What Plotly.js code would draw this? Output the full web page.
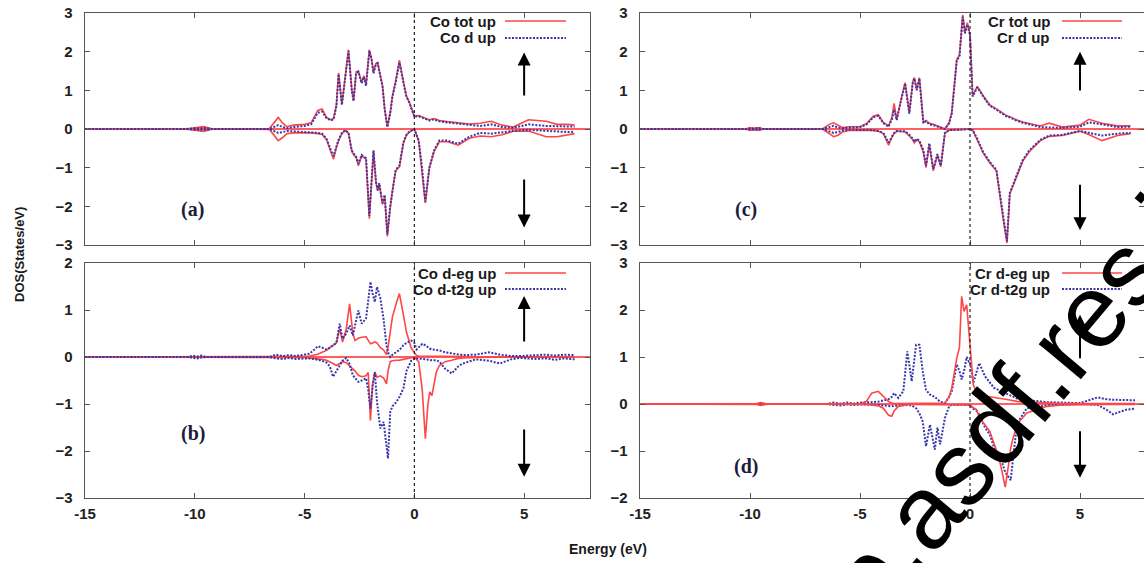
<!DOCTYPE html>
<html>
<head>
<meta charset="utf-8">
<script src="https://cdn.plot.ly/plotly-3.0.1.min.js"></script>
<style>html,body{margin:0;padding:0;background:#fff;}#plot{width:1144px;height:563px;}</style>
</head>
<body>
<div id="plot"></div>
<script>
// ---------- DATA ----------
// Panel (a): Co total and Co d (spin up > 0, spin down < 0)
const aE      = [-15,-10.4,-10.0,-9.8,-9.6,-9.4,-9.2,-6.6,-6.4,-6.2,-6.0,-5.8,-5.5,-5.0,-4.7,-4.4,-4.2,-4.0,-3.8,-3.68,-3.55,-3.45,-3.3,-3.15,-3.0,-2.85,-2.77,-2.65,-2.55,-2.4,-2.3,-2.2,-2.05,-1.95,-1.86,-1.75,-1.67,-1.6,-1.45,-1.35,-1.23,-1.1,-1.0,-0.85,-0.68,-0.5,-0.36,-0.23,-0.1,0,0.2,0.35,0.5,0.68,0.9,1.14,1.5,2.0,2.5,3.0,3.5,4.0,4.5,5.2,6.0,6.5,7.0,7.3];
const aTotUp  = [0,0,0.03,0.05,0.06,0.03,0,0.01,0.15,0.3,0.15,0.06,0.1,0.12,0.16,0.48,0.52,0.3,0.24,0.27,0.62,1.45,0.64,1.32,2.05,1.02,0.74,1.48,1.5,1.2,1.38,1.15,2.05,1.82,1.46,1.7,1.72,1.52,1.12,0.52,0.06,0.42,0.85,1.25,1.78,1.24,0.85,0.7,0.52,0.33,0.35,0.32,0.27,0.24,0.27,0.22,0.19,0.16,0.13,0.15,0.2,0.1,0.05,0.24,0.2,0.12,0.12,0.1];
const aTotDn  = [0,0,-0.03,-0.05,-0.06,-0.03,0,-0.01,-0.15,-0.3,-0.22,-0.12,-0.1,-0.1,-0.1,-0.12,-0.14,-0.28,-0.6,-0.78,-0.48,-0.3,-0.12,-0.04,-0.1,-0.58,-0.66,-0.74,-0.95,-0.7,-0.74,-0.78,-2.32,-1.25,-0.57,-1.38,-1.6,-1.42,-1.95,-1.75,-2.78,-2.05,-1.6,-1.08,-0.98,-0.37,-0.16,-0.08,-0.03,0,-0.32,-1.05,-1.92,-1.02,-0.58,-0.33,-0.33,-0.42,-0.24,-0.18,-0.2,-0.15,-0.06,-0.05,-0.2,-0.2,-0.15,-0.12];
const aDUp    = [0,0,0.02,0.01,0.03,0.01,0,0,0.05,0.1,0.05,0.02,0.05,0.08,0.12,0.42,0.45,0.28,0.22,0.25,0.6,1.42,0.62,1.3,2.02,1.0,0.72,1.45,1.48,1.18,1.35,1.12,2.02,1.8,1.44,1.68,1.7,1.5,1.1,0.5,0.05,0.4,0.83,1.2,1.72,1.2,0.83,0.68,0.5,0.32,0.33,0.3,0.25,0.22,0.25,0.2,0.17,0.14,0.1,0.08,0.12,0.05,0.03,0.12,0.08,0.07,0.07,0.06];
const aDDn    = [0,0,-0.02,-0.01,-0.03,-0.01,0,0,-0.05,-0.1,-0.08,-0.05,-0.06,-0.07,-0.08,-0.1,-0.12,-0.25,-0.55,-0.7,-0.45,-0.28,-0.1,-0.03,-0.1,-0.55,-0.63,-0.72,-0.9,-0.67,-0.72,-0.75,-2.25,-1.2,-0.55,-1.35,-1.58,-1.4,-1.92,-1.7,-2.72,-2.0,-1.58,-1.05,-0.95,-0.35,-0.15,-0.07,-0.03,0,-0.3,-1.0,-1.88,-1.0,-0.55,-0.3,-0.3,-0.38,-0.2,-0.1,-0.12,-0.08,-0.05,-0.02,-0.05,-0.08,-0.08,-0.07];

// Panel (b): Co d-eg and Co d-t2g
const bE      = [-15,-10.3,-10.1,-9.9,-9.7,-9.5,-6.6,-6.3,-6.0,-5.7,-5.4,-5.0,-4.77,-4.5,-4.4,-4.2,-4.0,-3.85,-3.7,-3.55,-3.4,-3.27,-3.1,-2.95,-2.8,-2.7,-2.55,-2.4,-2.2,-2.1,-2.0,-1.9,-1.8,-1.7,-1.55,-1.4,-1.27,-1.2,-1.1,-1.0,-0.82,-0.68,-0.5,-0.36,-0.14,0,0.1,0.2,0.36,0.5,0.62,0.7,0.8,1.0,1.14,1.4,1.7,2.0,2.2,2.8,3.4,3.9,4.4,4.8,5.5,6.0,6.4,6.8,7.3];
const bEgUp   = [0,0,0,0,0,0,0,0,0,0,0,0.01,0.02,0.04,0.06,0.1,0.14,0.2,0.25,0.3,0.6,0.32,0.6,1.13,0.5,0.35,0.4,0.42,0.43,0.35,0.28,0.3,0.32,0.3,0.2,0.15,0.05,0.2,0.55,0.85,1.15,1.35,0.9,0.53,0.19,0.08,0.03,0.02,0.02,0.02,0.02,0.02,0.02,0.02,0.02,0.01,0.01,0.01,0.01,0,0,0,0,0,0,0,0,0,0];
const bEgDn   = [0,0,0,0,0,0,0,0,0,0,0,-0.01,-0.02,-0.03,-0.04,-0.05,-0.07,-0.1,-0.14,-0.18,-0.14,-0.1,-0.12,-0.18,-0.25,-0.3,-0.39,-0.42,-0.4,-0.33,-1.35,-0.6,-0.32,-0.43,-0.4,-0.45,-0.57,-0.3,-0.1,-0.08,-0.07,-0.07,-0.05,-0.04,-0.02,0,-0.05,-0.1,-0.7,-1.74,-1.0,-0.74,-0.82,-0.32,-0.18,-0.1,-0.07,-0.03,-0.02,-0.01,0,0,0,0,0,0,0,0,0];
const bT2gUp  = [0,0,0.03,0.01,0.03,0,0,0.05,0.02,0.04,0.02,0.05,0.07,0.18,0.23,0.2,0.16,0.2,0.26,0.3,0.71,0.39,0.5,0.67,0.46,0.7,0.99,0.71,0.82,1.2,1.6,1.35,1.17,1.49,1.25,0.8,0.25,0.1,0.0,0.05,0.1,0.15,0.25,0.3,0.35,0.3,0.16,0.2,0.28,0.25,0.2,0.18,0.16,0.15,0.14,0.1,0.08,0.05,0.04,0.05,0.1,0.05,0.02,0.02,0.03,0.05,0.03,0.05,0.04];
const bT2gDn  = [0,0,-0.02,-0.03,-0.01,0,0,-0.03,-0.04,-0.02,-0.04,-0.03,-0.03,-0.05,-0.06,-0.08,-0.12,-0.2,-0.42,-0.3,-0.18,-0.08,-0.02,-0.15,-0.39,-0.45,-0.53,-0.5,-0.45,-0.7,-1.1,-0.6,-0.32,-0.96,-1.52,-1.38,-1.9,-2.16,-1.17,-1.05,-0.96,-0.85,-0.67,-0.3,-0.08,-0.03,-0.03,-0.03,-0.04,-0.05,-0.05,-0.06,-0.07,-0.07,-0.1,-0.25,-0.35,-0.2,-0.14,-0.05,-0.08,-0.14,-0.05,-0.02,-0.04,-0.03,-0.06,-0.03,-0.05];

// Panel (c): Cr total and Cr d
const cE      = [-15,-10.2,-10.0,-9.8,-9.6,-9.4,-6.7,-6.4,-6.2,-6.0,-5.8,-5.5,-5.0,-4.7,-4.4,-4.17,-3.94,-3.7,-3.55,-3.45,-3.33,-3.15,-2.95,-2.76,-2.6,-2.53,-2.42,-2.3,-2.12,-2.0,-1.85,-1.67,-1.48,-1.33,-1.14,-0.95,-0.83,-0.6,-0.48,-0.33,-0.23,-0.12,0,0.12,0.33,0.6,0.9,1.2,1.5,1.68,1.81,2.1,2.4,2.7,3.2,3.6,4.2,5.0,5.4,6.0,6.7,7.3];
const cTotUp  = [0,0,0.03,0.02,0.04,0,0,0.12,0.16,0.1,0.04,0.06,0.06,0.14,0.33,0.37,0.17,0.08,0.3,0.66,0.25,0.72,1.2,0.42,1.22,1.33,1.02,1.33,0.17,0.22,0.15,0.12,0.07,0.04,0,0.16,0.42,1.8,1.9,2.95,2.5,2.75,2.45,0.86,1.1,0.86,0.62,0.52,0.4,0.34,0.32,0.24,0.18,0.14,0.08,0.15,0.05,0.1,0.25,0.15,0.08,0.08];
const cTotDn  = [0,0,-0.03,-0.02,-0.03,0,0,-0.12,-0.2,-0.16,-0.08,-0.04,-0.03,-0.03,-0.04,-0.06,-0.12,-0.42,-0.22,-0.12,-0.06,-0.06,-0.07,-0.18,-0.28,-0.36,-0.28,-0.33,-0.6,-1.0,-0.4,-1.08,-0.68,-0.98,-0.11,-0.03,-0.02,-0.02,-0.02,-0.01,-0.01,0,0,-0.03,-0.27,-0.62,-0.88,-1.08,-2.3,-2.95,-1.68,-1.27,-0.83,-0.58,-0.3,-0.19,-0.17,-0.06,-0.14,-0.3,-0.17,-0.12];
const cDUp    = [0,0,0.02,0.01,0.03,0,0,0.06,0.08,0.04,0.02,0.04,0.05,0.12,0.3,0.34,0.15,0.06,0.25,0.5,0.23,0.7,1.18,0.4,1.2,1.31,1.0,1.31,0.15,0.2,0.12,0.1,0.06,0.03,0,0.15,0.4,1.78,1.87,2.9,2.47,2.7,2.43,0.84,1.08,0.84,0.6,0.5,0.38,0.32,0.3,0.22,0.16,0.12,0.05,0.04,0.03,0.06,0.17,0.12,0.05,0.06];
const cDDn    = [0,0,-0.02,-0.01,-0.02,0,0,-0.06,-0.1,-0.08,-0.04,-0.02,-0.02,-0.02,-0.03,-0.05,-0.1,-0.35,-0.2,-0.1,-0.05,-0.05,-0.06,-0.15,-0.25,-0.33,-0.25,-0.3,-0.55,-0.95,-0.37,-1.03,-0.65,-0.95,-0.1,-0.03,-0.02,-0.02,-0.02,-0.01,-0.01,0,0,-0.03,-0.25,-0.6,-0.85,-1.06,-2.27,-2.9,-1.65,-1.24,-0.8,-0.55,-0.28,-0.17,-0.15,-0.05,-0.1,-0.17,-0.12,-0.1];

// Panel (d): Cr d-eg and Cr d-t2g
const dE      = [-15,-10.0,-9.7,-9.5,-9.3,-9.0,-6.5,-6.2,-5.9,-5.6,-5.3,-5.0,-4.7,-4.47,-4.17,-3.94,-3.7,-3.56,-3.45,-3.26,-3.03,-2.85,-2.65,-2.45,-2.3,-2.15,-2.0,-1.82,-1.6,-1.48,-1.36,-1.14,-0.95,-0.83,-0.6,-0.48,-0.38,-0.27,-0.15,-0.05,0,0.15,0.3,0.42,0.68,0.9,1.1,1.28,1.44,1.6,1.75,1.85,1.97,2.12,2.2,2.58,3.5,4.2,5.0,5.8,6.2,6.5,7.1,7.5];
const dEgUp   = [0,0,0.01,0.03,0.01,0,0,0,0,0,0,0,0.06,0.23,0.27,0.17,0.05,0.02,0.01,0.01,0.01,0.01,0.01,0.01,0.01,0.01,0.01,0.01,0.01,0.01,0.01,0.02,0.15,0.34,0.98,1.2,2.29,1.97,2.11,1.5,1.26,0.41,0.25,0.2,0.17,0.15,0.13,0.12,0.11,0.1,0.09,0.08,0.07,0.06,0.05,0.04,0.02,0.01,0.01,0.01,0.01,0.01,0.01,0.01];
const dEgDn   = [0,0,-0.01,-0.03,-0.01,0,0,0,0,0,0,0,-0.01,-0.02,-0.04,-0.09,-0.24,-0.26,-0.15,-0.05,-0.02,-0.01,-0.01,-0.01,-0.01,-0.01,-0.01,-0.01,-0.01,-0.01,-0.01,-0.01,-0.01,-0.01,-0.01,-0.01,-0.01,-0.01,-0.01,-0.01,-0.02,-0.08,-0.12,-0.28,-0.45,-0.58,-0.85,-1.08,-1.4,-1.77,-1.3,-0.94,-0.7,-0.51,-0.4,-0.19,-0.05,-0.02,-0.01,-0.01,-0.01,-0.01,-0.01,-0.01];
const dT2gUp  = [0,0,0.01,0,0,0,0,0.03,0.01,0.03,0.01,0.03,0.03,0.04,0.05,0.07,0.1,0.15,0.23,0.13,0.27,1.12,0.48,1.26,1.26,0.7,0.3,0.2,0.15,0.1,0.05,0.02,0.15,0.27,0.84,0.7,0.52,0.7,1.0,0.9,0.9,0.45,0.7,0.87,0.59,0.45,0.34,0.3,0.26,0.23,0.2,0.18,0.16,0.12,0.1,0.08,0.04,0.03,0.02,0.14,0.1,0.09,0.09,0.08];
const dT2gDn  = [0,0,0,0,0,0,0,-0.02,-0.03,-0.01,-0.02,-0.01,-0.01,-0.01,-0.02,-0.03,-0.05,-0.05,-0.04,-0.03,-0.02,-0.02,-0.03,-0.09,-0.2,-0.37,-0.9,-0.44,-0.97,-0.5,-0.86,-0.3,-0.05,-0.02,-0.02,-0.02,-0.02,-0.02,-0.02,-0.02,-0.02,-0.1,-0.15,-0.22,-0.5,-0.65,-0.94,-1.1,-1.22,-1.45,-1.55,-1.62,-1.1,-0.5,-0.37,-0.09,-0.03,-0.02,0,-0.02,-0.12,-0.22,-0.12,-0.1];

// Legend labels and panel tags
const legA = ["Co tot up", "Co d up"];
const legB = ["Co d-eg up", "Co d-t2g up"];
const legC = ["Cr tot up", "Cr d up"];
const legD = ["Cr d-eg up", "Cr d-t2g up"];
const panelTags = ["(a)", "(b)", "(c)", "(d)"];
const xTicks = [-15, -10, -5, 0, 5];

// ---------- STYLE / LAYOUT ----------
const W = 1144, H = 563;
const px = p => p / W;
const py = p => 1 - p / H;
const RED = 'rgb(255,70,70)';
const BLUE = 'rgb(55,55,170)';

function redLine(x, y, xa, ya) {
  return {x: x, y: y, xaxis: xa, yaxis: ya, type: 'scatter', mode: 'lines',
          line: {color: RED, width: 1.6}, showlegend: false, hoverinfo: 'skip'};
}
function blueLine(x, y, xa, ya) {
  return {x: x, y: y, xaxis: xa, yaxis: ya, type: 'scatter', mode: 'lines',
          line: {color: BLUE, width: 2, dash: '2px,1.5px'}, showlegend: false, hoverinfo: 'skip'};
}

const traces = [
  redLine(aE, aTotUp, 'x', 'y'), redLine(aE, aTotDn, 'x', 'y'),
  blueLine(aE, aDUp, 'x', 'y'), blueLine(aE, aDDn, 'x', 'y'),
  redLine(bE, bEgUp, 'x2', 'y2'), redLine(bE, bEgDn, 'x2', 'y2'),
  blueLine(bE, bT2gUp, 'x2', 'y2'), blueLine(bE, bT2gDn, 'x2', 'y2'),
  redLine(cE, cTotUp, 'x3', 'y3'), redLine(cE, cTotDn, 'x3', 'y3'),
  blueLine(cE, cDUp, 'x3', 'y3'), blueLine(cE, cDDn, 'x3', 'y3'),
  blueLine(dE, dT2gUp, 'x4', 'y4'), blueLine(dE, dT2gDn, 'x4', 'y4'),
  redLine(dE, dEgUp, 'x4', 'y4'), redLine(dE, dEgDn, 'x4', 'y4')
];

const tickFont = {family: 'Liberation Sans, Arial, sans-serif', size: 15, color: '#222', weight: 'bold'};
function xAx(domain, range, showLabels, anchor) {
  return {domain: domain, range: range, anchor: anchor, showline: true, mirror: 'allticks',
          linecolor: '#555', linewidth: 1.3, ticks: 'inside', ticklen: 5, tickcolor: '#555',
          tickvals: xTicks, ticktext: xTicks.map(String), showticklabels: showLabels,
          showgrid: false, zeroline: false, tickfont: tickFont, ticklabelstandoff: 2, fixedrange: true};
}
function yAx(domain, range, anchor) {
  return {domain: domain, range: range, anchor: anchor, showline: true, mirror: 'allticks',
          linecolor: '#555', linewidth: 1.3, ticks: 'inside', ticklen: 5, tickcolor: '#555',
          dtick: 1, tick0: 0, showgrid: false, zeroline: true, zerolinecolor: 'rgb(255,95,95)',
          zerolinewidth: 2, tickfont: tickFont, ticklabelstandoff: 8, fixedrange: true};
}

const xL = [px(85), px(590)], xR = [px(640), 1];
const yT = [py(245), py(13)], yB = [py(498), py(263)];
const rangeL = [-15, 8], rangeR = [-15, (W - 640) / 22 - 15];

const annotations = [];
const shapes = [];

// Fermi level dotted lines
[['x','y'],['x2','y2'],['x3','y3'],['x4','y4']].forEach(([xa, ya]) => {
  shapes.push({type: 'line', xref: xa, yref: ya + ' domain', x0: 0, x1: 0, y0: 0, y1: 1,
               line: {color: '#222', width: 1.2, dash: 'dot'}, layer: 'above'});
});

// legends (gnuplot style: text right-aligned, sample on the right)
const legFont = {family: 'Liberation Sans, Arial, sans-serif', size: 15, color: '#1a1a1a', weight: 'bold'};
function legend(labels, textRight, lineX0, lineX1, y1, y2) {
  [[labels[0], y1, RED, 'solid', 1.6], [labels[1], y2, BLUE, '2px,1.5px', 2]].forEach(([t, yy, c, d, w]) => {
    annotations.push({text: t, xref: 'paper', yref: 'paper', x: px(textRight), y: py(yy),
                      xanchor: 'right', yanchor: 'middle', showarrow: false, font: legFont});
    shapes.push({type: 'line', xref: 'paper', yref: 'paper', x0: px(lineX0), x1: px(lineX1),
                 y0: py(yy), y1: py(yy), line: {color: c, width: w, dash: d}});
  });
}
legend(legA, 498, 505, 566, 21, 38);
legend(legB, 498, 505, 566, 273, 289);
legend(legC, 1052, 1062, 1122, 21, 38);
legend(legD, 1052, 1062, 1122, 273, 289);

// panel tags
const tagFont = {family: 'Liberation Serif, Times New Roman, serif', size: 20, color: '#1c1c3c', weight: 'bold'};
[['x','y',-10.1,-2.09],['x2','y2',-10.1,-1.62],['x3','y3',-10.2,-2.09],['x4','y4',-10.2,-1.32]].forEach(([xa, ya, xx, yy], i) => {
  annotations.push({text: panelTags[i], xref: xa, yref: ya, x: xx, y: yy, xanchor: 'center', yanchor: 'middle',
                    showarrow: false, font: tagFont});
});

// spin arrows
function arrow(xa, ya, x, yHead, yTail) {
  annotations.push({text: '', xref: xa, yref: ya, axref: xa, ayref: ya, x: x, y: yHead, ax: x, ay: yTail,
                    showarrow: true, arrowhead: 2, arrowsize: 1.3, arrowwidth: 2, arrowcolor: '#000', standoff: 0});
}
arrow('x','y',5,1.98,0.83);   arrow('x','y',5,-2.55,-1.27);
arrow('x2','y2',5,1.3,0.3);   arrow('x2','y2',5,-2.55,-1.51);
arrow('x3','y3',5,2.0,0.96);  arrow('x3','y3',5,-2.62,-1.4);
arrow('x4','y4',5,1.9,0.94);  arrow('x4','y4',5,-1.57,-0.55);

// axis titles
const titleFont = {family: 'Liberation Sans, Arial, sans-serif', size: 14, color: '#1a1a1a', weight: 'bold'};
annotations.push({text: 'Energy (eV)', xref: 'paper', yref: 'paper', x: px(608), y: py(549),
                  xanchor: 'center', yanchor: 'middle', showarrow: false, font: titleFont});
annotations.push({text: 'DOS(States/eV)', xref: 'paper', yref: 'paper', x: px(19), y: py(255),
                  xanchor: 'center', yanchor: 'middle', textangle: -90, showarrow: false,
                  font: {...titleFont, size: 13}});

// watermark
annotations.push({text: 'edlib.asdf.res.in', xref: 'paper', yref: 'paper', x: px(978), y: py(446),
                  xanchor: 'center', yanchor: 'middle', textangle: -50, showarrow: false,
                  font: {family: 'Liberation Sans, Arial, sans-serif', size: 104, color: '#000'}});

const layout = {
  width: W, height: H, autosize: false,
  margin: {l: 0, r: 0, t: 0, b: 0, pad: 0},
  paper_bgcolor: '#fff', plot_bgcolor: '#fff', showlegend: false,
  xaxis: xAx(xL, rangeL, false, 'y'),   yaxis: yAx(yT, [-3, 3], 'x'),
  xaxis2: xAx(xL, rangeL, true, 'y2'),  yaxis2: yAx(yB, [-3, 2], 'x2'),
  xaxis3: xAx(xR, rangeR, false, 'y3'), yaxis3: yAx(yT, [-3, 3], 'x3'),
  xaxis4: xAx(xR, rangeR, true, 'y4'),  yaxis4: yAx(yB, [-2, 3], 'x4'),
  annotations: annotations, shapes: shapes
};

Plotly.newPlot('plot', traces, layout, {displayModeBar: false, staticPlot: true});
</script>
</body>
</html>
